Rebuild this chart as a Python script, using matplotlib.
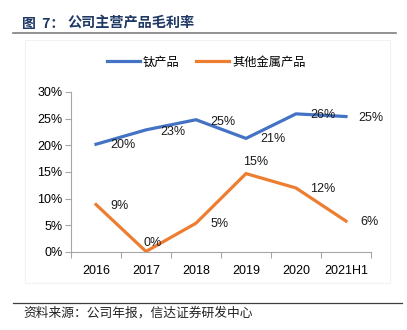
import matplotlib
matplotlib.use("Agg")
import matplotlib.pyplot as plt
from matplotlib.lines import Line2D
from matplotlib.patches import Rectangle

plt.rcParams['font.family'] = ['Liberation Sans', 'Noto Sans CJK SC', 'DejaVu Sans']

# Data
categories = ['2016', '2017', '2018', '2019', '2020', '2021H1']
titanium = [20.2, 22.9, 24.8, 21.3, 25.9, 25.4]
other_metals = [8.9, 0.1, 5.4, 14.7, 12.0, 5.8]
titanium_labels = ['20%', '23%', '25%', '21%', '26%', '25%']
other_labels = ['9%', '0%', '5%', '15%', '12%', '6%']
series_names = ['钛产品', '其他金属产品']
y_ticks = [0, 5, 10, 15, 20, 25, 30]
title_prefix = '图  7：'
title_text = '公司主营产品毛利率'
source_text = '资料来源：公司年报，信达证券研发中心'

BLUE = '#4472C4'
ORANGE = '#ED7D31'
W, H = 407, 330
CJK = ['Noto Sans CJK SC', 'DejaVu Sans']

fig = plt.figure(figsize=(W / 100, H / 100), dpi=100)

def fx(px):
    return px / W

def fy(py):
    return 1 - py / H

# Header and footer decoration
fig.text(fx(22), fy(24), title_prefix, fontsize=10, fontweight='bold',
         color='#1F3864', va='center', ha='left', family=CJK)
fig.text(fx(67), fy(24), title_text, fontsize=10.2, fontweight='bold',
         color='#1F3864', va='center', ha='left', family=CJK)
fig.add_artist(Line2D([fx(13), fx(396)], [fy(33), fy(33)], color='#7F7F7F', lw=1.2))
fig.add_artist(Line2D([fx(13), fx(402)], [fy(303), fy(303)], color='#404040', lw=0.9))
fig.text(fx(23), fy(313), source_text, fontsize=9.2, style='italic',
         color='#222222', va='center', ha='left', family=CJK)
# faint chart frame
fig.add_artist(Rectangle((fx(25), fy(283)), fx(390 - 25), (283 - 40) / H,
                         fill=False, edgecolor='#F2F2F2', lw=0.8))

ax = fig.add_axes([fx(71), fy(252), fx(371 - 71), (252 - 92) / H])
x = list(range(len(categories)))
ax.plot(x, titanium, color=BLUE, lw=2.3, solid_joinstyle='miter', label=series_names[0])
ax.plot(x, other_metals, color=ORANGE, lw=2.3, solid_joinstyle='miter', label=series_names[1])

ax.set_xlim(-0.5, len(categories) - 0.5)
ax.set_ylim(0, 30)
ax.set_yticks(y_ticks)
ax.set_yticklabels([f'{v}%' for v in y_ticks], fontsize=9)
ax.set_xticks(x)
ax.set_xticklabels(categories, fontsize=9)
ax.tick_params(axis='x', length=0, pad=9)
ax.tick_params(axis='y', length=4, width=0.8, color='#A6A6A6', pad=2)
# category separator ticks
ax.set_xticks([i - 0.5 for i in range(len(categories) + 1)], minor=True)
ax.tick_params(axis='x', which='minor', length=4, width=0.8, color='#A6A6A6', direction='out')

for s in ['top', 'right']:
    ax.spines[s].set_visible(False)
for s in ['left', 'bottom']:
    ax.spines[s].set_color('#A6A6A6')
    ax.spines[s].set_linewidth(0.8)

# Value labels (pixel offsets from each point)
ti_offsets = [(14, -1), (14, -2), (14, -2), (14, -1), (14, -1), (12, -1)]
ot_offsets = [(14, -1), (-3, 8), (15, -1), (-3, 12), (14, -1), (14, -1)]
for i, (v, t) in enumerate(zip(titanium, titanium_labels)):
    ax.annotate(t, (i, v), xytext=ti_offsets[i], textcoords='offset pixels',
                ha='left', va='center', fontsize=9, color='#1a1a1a')
for i, (v, t) in enumerate(zip(other_metals, other_labels)):
    ax.annotate(t, (i, v), xytext=ot_offsets[i], textcoords='offset pixels',
                ha='left', va='center', fontsize=9, color='#1a1a1a',
                annotation_clip=False)

fig.legend(handles=ax.get_lines(), labels=series_names, loc='center left',
           bbox_to_anchor=(fx(107), fy(62)), ncol=2, frameon=False,
           borderpad=0, borderaxespad=0,
           handlelength=2.7, handletextpad=0.25, columnspacing=1.35,
           prop={'family': CJK, 'size': 8.8})

fig.savefig('out.png', dpi=100)
